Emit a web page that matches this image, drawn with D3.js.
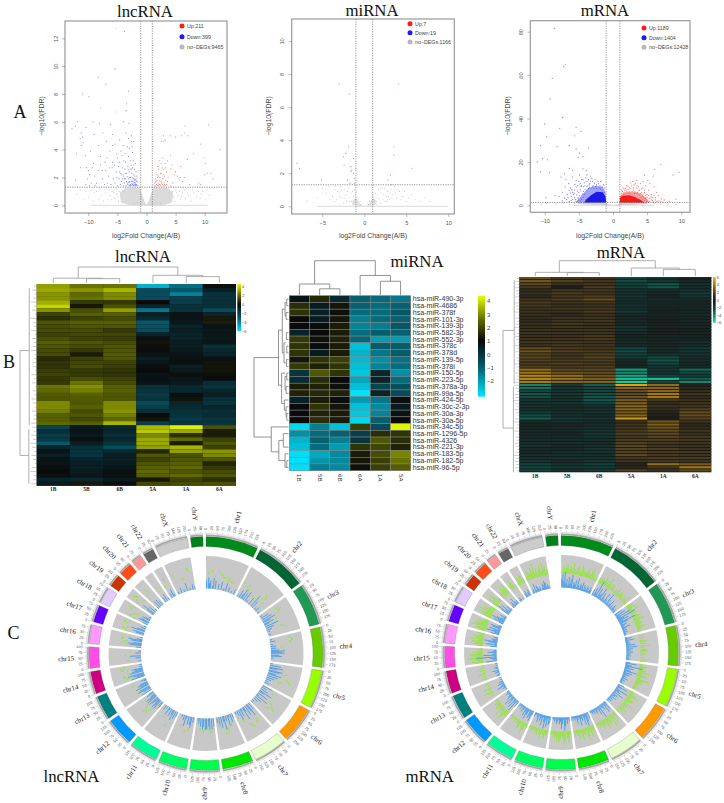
<!DOCTYPE html>
<html><head><meta charset="utf-8">
<style>html,body{margin:0;padding:0;background:#fff}svg{display:block}</style>
<script src="https://d3js.org/d3.v7.min.js"></script>
</head><body><svg id="c" width="724" height="803"></svg>
<script>
// ---------- volcano data (log2FC, -log10 FDR) ----------
const lncUp=[[1.3,1.4],[1.4,1.6],[1.5,1.9],[1.6,1.4],[1.7,1.5],[1.8,1.8],[1.8,2.2],[1.9,1.4],[2,1.6],[2,2.1],[2.1,1.4],[2.1,2.6],[2.2,1.8],[2.3,1.5],[2.3,2],[2.4,1.4],[2.5,1.7],[2.5,3],[2.6,2.3],[2.7,1.5],[2.8,1.9],[2.8,3.4],[2.9,1.4],[3,1.6],[3,2.6],[3.1,2.1],[3.2,1.4],[3.2,3],[3.3,1.8],[3.4,2.4],[3.5,1.5],[3.6,3.2],[3.7,2],[3,4.6],[2.6,4.6],[3.2,4.7],[2.9,5],[4.1,5],[5,4.9],[6,5],[6.6,5.2],[6.6,5.7],[4.2,2.6],[4.5,1.6],[4.8,2.2],[5,2.4],[5.3,2.1],[5.6,1.9],[5.8,2],[4.1,3.6],[4.4,2.9],[5.9,2.8],[6.2,1.7],[7.1,5],[7,3.3],[8.1,3.7],[9.3,4.4],[9.9,3.4],[10.1,3],[10,2.2],[10.5,2.3],[9.3,1.5],[9,1.6],[10.7,5.8],[11.1,2.3],[11.4,1.9],[12.6,4],[6.5,2],[7.4,1.5],[4.1,1.4],[1.6,1.7],[1.9,2],[2.2,1.5],[2.4,2.3],[2.6,1.6],[2.9,2.2],[3.1,1.5],[3.3,2.7],[2,2.8],[2.2,3.2],[2.7,2.7],[3.6,1.7]];
const lncDown=[[-3.8,12.5],[-5.4,9.8],[-8.3,9.2],[-7,8.7],[-3.1,8.2],[-11,8],[-9.9,7.8],[-3.4,7.3],[-3.5,6.8],[-11.9,6],[-12.2,5.7],[-12.8,5.5],[-11.2,5.2],[-11,4.9],[-11.4,4.8],[-10.9,4.5],[-11.2,4.3],[-9.2,6],[-8.1,5.9],[-6.2,5.8],[-4,6],[-3,5.9],[-10.4,5.6],[-7.5,5.2],[-9,5.1],[-5.8,5.1],[-4.6,4.7],[-3.5,5.2],[-2.6,5],[-2.6,4.6],[-6.9,4.6],[-8.2,4.3],[-5.4,4.4],[-4,4.3],[-3.3,4.2],[-2.5,4.2],[-12,3.7],[-10.5,3.6],[-9.6,3.9],[-7.9,3.5],[-6.3,3.9],[-5.1,3.7],[-4.2,3.6],[-3.1,3.5],[-2.4,3.8],[-2.3,3.2],[-7.1,3.1],[-9.1,3],[-5.8,3.1],[-4.7,3.1],[-3.6,3.1],[-2.8,3.2],[-1.9,3],[-11.3,2.7],[-10.3,2.7],[-10,2.5],[-9.8,2.2],[-10.1,1.9],[-10.4,1.5],[-9.5,1.6],[-9.8,1.4],[-8.9,2.1],[-8.6,1.6],[-8.2,2.5],[-7.6,1.9],[-7.2,1.5],[-7,2.5],[-6.5,2.1],[-6.1,1.5],[-5.9,2.7],[-5.7,1.9],[-5.4,1.6],[-5.2,2.4],[-5,1.4],[-4.8,2.8],[-4.7,1.9],[-4.5,1.5],[-4.4,2.3],[-4.3,1.7],[-4.1,2.7],[-4,1.4],[-3.9,2.1],[-3.8,1.6],[-3.7,2.6],[-3.6,1.9],[-3.5,1.4],[-3.4,2.3],[-3.3,1.6],[-3.2,2.8],[-3.1,1.9],[-3,1.4],[-3,2.4],[-2.9,1.7],[-2.8,2.6],[-2.8,1.5],[-2.7,2],[-2.6,2.9],[-2.6,1.4],[-2.5,1.7],[-2.5,2.3],[-2.4,1.5],[-2.4,2.7],[-2.3,1.9],[-2.3,1.4],[-2.2,2.2],[-2.2,1.6],[-2.1,1.4],[-2.1,2.6],[-2,1.8],[-2,1.5],[-2,2.1],[-1.9,1.4],[-1.9,1.6],[-1.8,1.9],[-1.8,2.4],[-1.7,1.5],[-1.7,1.4],[-1.6,1.7],[-1.5,1.4],[-3.2,1.5],[-3.6,2.3],[-2.9,2],[-3.9,3.2],[-2.2,2.9],[-4.1,1.9],[-6.7,1.6],[-12.2,1.8],[-5,3.4],[-7.9,2.9],[-2.7,1.45],[-2.5,1.55],[-2.35,1.75],[-2.2,1.45],[-2.05,1.65],[-1.95,1.85],[-2.15,1.9],[-2.45,2],[-2.65,1.75],[-2.85,1.4],[-3.05,1.65],[-3.25,2.05],[-3.45,1.7],[-3.15,2.55],[-2.55,2.6],[-1.85,1.5],[-1.75,1.75],[-1.65,2.1],[-4.2,2.2],[-3.75,1.9],[-4.6,2.4],[-5.1,2],[-5.5,2.9],[-6.3,2.7],[-6.8,3.4],[-4.4,3.9],[-3.7,3.7],[-2.9,4.1],[-2.2,4.6],[-7.6,2.5],[-8.8,1.4],[-9.3,2.7],[-3.1,4.8],[-5.8,4.3]];
const lncGrey=[[-5.2,12.7],[-7.9,7],[-5.2,6.7],[-8.6,1],[-7.8,.7],[-7,.9],[-6.4,1.1],[-6,.4],[-5.6,.9],[-5.2,1.2],[-4.9,.6],[-4.6,1],[-9.9,.6],[-9.2,.3],[-8.2,.4],[-7.4,.3],[-10.8,.4],[4.4,1],[4.7,.6],[5,1.1],[5.4,.7],[5.8,.4],[6.2,.9],[6.7,.5],[7.2,.7],[7.6,.3],[8.1,.9],[8.6,.6],[9.2,.5],[9.7,1],[10.2,.4],[10.8,.7],[-3.9,1],[3.9,.9],[-11.4,1.1],[-12,.8],[-4.8,.3],[-5.1,.8],[-5.5,.5],[-5.9,1],[-6.3,.7],[-6.7,.4],[-7.2,1.1],[-8,1.2],[-9,.9],[-9.6,1.1],[-10.4,1],[4.9,.3],[5.2,.9],[5.7,1],[6,.6],[6.5,1.1],[7,.9],[7.9,1.1],[8.9,1],[9.4,.8],[10.4,1.1],[-1,.25],[-1.6,.2],[-2.2,.15],[1.1,.2],[1.7,.18],[2.4,.12]];
const lncCloud=[[0,.02],[-.4,.35],[-.8,.85],[-1.2,1.27],[-3.6,1.27],[-4.6,.9],[-4.4,.2],[-3,.03],[-.3,.01],[.3,.01],[3,.03],[4.4,.2],[4.6,.9],[3.6,1.27],[1.2,1.27],[.8,.85],[.4,.35]];
const miUp=[[4.1,7.4],[3.5,3.6],[3.5,3.1],[5.7,2.3],[3.1,1.9],[2.8,1.6],[3.2,1.3]];
const miDown=[[-2.8,12.9],[-3,7.4],[-1.8,6.8],[-1.9,3.6],[-2.2,3.2],[-2.5,3],[-1.3,2.9],[-8,2.6],[-7.7,2.3],[-2.4,2.5],[-1.6,2.4],[-1.5,2.2],[-1.6,2.1],[-1.3,2],[-1.2,1.7],[-5.1,1.6],[-1.7,1.4],[-1.2,1.4],[-2,1.6]];
const miGrey=[[-5,1.1],[-4.5,.8],[-4.2,1.2],[-3.8,.6],[-3.5,1],[-3.3,.4],[-3,.8],[-2.8,1.2],[-2.6,.5],[-2.4,1],[-2.2,.7],[-2.1,.3],[-1.9,1.1],[-1.8,.5],[-1.6,.8],[-1.5,.3],[-1.3,.6],[-1.2,1],[-1.1,.4],[-.9,.5],[-.8,.3],[-.7,.4],[-.6,.2],[-.5,.3],[-.4,.1],[.4,.2],[.5,.1],[.6,.3],[.7,.2],[.8,.5],[.9,.3],[1,.6],[1.1,.4],[1.2,.3],[1.3,.8],[1.4,.5],[1.5,.3],[1.6,.7],[1.7,1],[1.8,.5],[2,.8],[2.2,.4],[2.4,1.1],[2.6,.6],[2.8,.9],[3,.4],[3.2,1],[3.4,.7],[3.6,1.2],[3.9,.5],[4.2,.9],[4.6,.6],[5,.3],[5.6,.7],[6.1,.4],[6.6,.3],[7.2,.5],[7.8,.3],[-5.6,.5],[-6,.2],[-6.8,.3],[-4.1,.4],[-3.6,.3],[2.7,.3],[1.9,.2],[-2.5,.2],[-2.9,.6],[-3.2,.9],[-3.4,1.2],[-2.7,1],[-2.3,.5],[-2,.9],[-1.7,.3],[-1.4,.9],[-1.1,.7],[2.1,1.1],[2.3,.7],[2.5,.3],[2.9,.6],[3.1,.8],[3.3,.5],[3.7,.8],[4,1],[4.4,.4],[4.8,.9],[5.3,.5]];
const miCloud=[[-.15,.01],[-.6,.15],[-1,.5],[-1.4,.35],[-1.5,.1],[-.8,.02],[.8,.02],[1.5,.1],[1.4,.35],[1,.5],[.6,.15],[.15,.01]];
const mUp=[[7,18.8],[6.1,16.5],[5.9,13.5],[9.7,15.2],[8.8,14],[5.1,11.5],[4.6,14],[5.4,10],[6,8.5],[6.4,6],[6.7,4.5],[7.1,3],[7.5,2.5],[9.2,2.8],[8.2,1.8],[5.6,5],[5.2,7],[4.8,9],[4.4,11],[4,10],[3.7,8.5],[3.3,10],[3,8],[2.7,9],[2.4,8],[2,9],[1.7,7],[4.2,6],[4.6,7],[5,5],[5.3,3],[5.8,3.5],[6.2,2.5],[4.9,2.5],[4.4,8],[3.9,7],[3.5,11.5],[2.9,11],[6.6,2],[5.6,2.5],[1.2,5.6],[1.4,6.4],[1.6,5.8],[1.8,7.8],[2,6.6],[2.2,7.2],[2.4,6.2],[2.6,7.6],[2.8,6.4],[3,7],[3.2,6.2],[3.4,7.8],[3.6,6],[3.8,6.8],[4,5.4],[4.2,7.6],[4.4,5.2],[4.6,5.8],[4.8,4.6],[5,3.8],[5.2,4.6],[5.4,3.4],[5.6,3.8],[5.8,2.2],[6,4.4],[6.2,3.6],[4.3,4.2],[4.5,3.6],[4.7,3],[3.9,4.6],[4.1,3.8],[3.7,5.2],[3.4,5.6],[3.1,5.4],[2.8,5.2],[2.5,5.4],[2.2,5.6],[1.9,5.4],[1.6,4.9],[1.3,4.6],[1.1,4],[5.1,2],[5.4,1.7],[4.9,1.6],[4.6,2],[4.8,3.4],[4.4,2.8],[5.9,1.6],[6.4,1.7],[7.3,1.6],[6.9,1.9],[3.5,9],[3.1,9.4],[2.6,10.4],[2.2,8.8],[1.5,8],[1.2,7]];
const mDown=[[-8.6,81.5],[-7,65],[-7.2,64],[-8.9,58.5],[-9.2,49],[-7.4,40.5],[-10,37.5],[-7.8,35.5],[-5.4,36],[-4.7,34],[-5.6,32],[-9.7,31.5],[-6.4,27.5],[-8.2,27],[-5.4,26],[-4.9,24],[-4.4,22.5],[-10.6,27.5],[-5.1,22],[-3.6,26.5],[-11.1,20],[-10.3,21.5],[-9.6,21],[-10.6,15.5],[-9.3,15],[-6.4,17],[-5.9,16],[-4.4,16.8],[-3.9,16],[-7.1,14.5],[-7.6,13],[-6.9,12],[-6.5,10],[-7,8.5],[-5.9,13],[-5.4,11.5],[-4.9,14],[-4.6,12],[-3.8,14],[-3.3,13.5],[-6.2,8],[-5.6,7],[-5.2,9],[-4.8,10],[-5,6],[-7.4,6],[-7.9,4],[-8.5,4.5],[-9.8,3.5],[-6.7,5],[-6.1,4],[-5.6,3.5],[-5.9,6],[-4.3,8.5],[-4.2,5],[-3.8,11],[-3,11],[-2.6,12],[-2.1,10],[-1.8,11],[-1.2,8],[-1.4,9.4],[-1.6,8.4],[-1.9,9],[-2.2,11],[-2.4,9.4],[-2.7,10.2],[-2.9,9],[-3.1,12.4],[-3.4,10],[-3.6,11.8],[-3.8,8.8],[-4,12.6],[-4.2,10.4],[-4.4,11.8],[-4.6,8.8],[-4.8,7.4],[-5,11],[-5.2,6.6],[-5.4,8.4],[-5.6,9.6],[-5.8,5],[-6,7.2],[-6.2,5.6],[-6.4,7],[-6.6,3.4],[-4.1,7.4],[-4.3,6.4],[-4.5,5.2],[-4.7,6.6],[-4.9,4.4],[-5.1,3.4],[-5.3,4.8],[-5.5,2.6],[-5.7,5.6],[-5.9,2.8],[-6.1,2.2],[-3.6,7.6],[-3.8,6.6],[-3.4,8.4],[-3.2,7.8],[-3,8.6],[-2.8,7.8],[-2.6,8.6],[-2.4,7.8],[-2,8],[-1.8,7.6],[-1.5,7],[-1.3,6],[-4.4,3.6],[-4.6,2.8],[-4.8,2],[-5,2.4],[-5.4,1.8],[-5.2,1.6],[-6.4,1.8],[-6.8,2.6],[-7.1,3.4],[-7.4,2],[-3.5,9.4],[-3.3,11.2],[-4.1,9],[-4.7,8.8]];
const mGrey=[[-9.8,1],[-8.4,.7],[-7.2,.9],[-6.4,.5],[-5.6,1],[6,.8],[7,.5],[8.1,.6],[9.2,.4],[-10.5,.4],[-5,1.1]];
const mUpDense=[[1,1.3],[1,4.2],[1.4,5.6],[2,6.2],[3.2,6.2],[4.2,5.2],[4.9,3.2],[5.4,1.3]];
const mUpCore=[[1,1.3],[1,3.2],[1.4,4.4],[2.4,4.6],[3.2,3.8],[4,2.6],[4.6,1.3]];
const mDownDense=[[-1,1.3],[-1.1,6],[-1.5,8.5],[-2.4,9],[-3.6,8],[-4.5,5],[-5.3,2],[-5.2,1.3]];
const mDownCore=[[-1,1.3],[-1.1,4],[-1.5,6],[-2.4,6.2],[-3.2,4.6],[-3.9,2.8],[-4.2,1.3]];
const mCloud=[[-.1,.1],[-.6,.4],[-1,1],[-1.6,1.28],[-4.8,1.28],[-5.2,.6],[-3,.2],[0,.02],[3,.2],[5.2,.6],[4.8,1.28],[1.6,1.28],[1,1],[.6,.4],[.1,.1]];

// ---------- heatmap data ----------
const lncCols=["1B","5B","6B","5A","1A","6A"];
const lncRows=[[3,2.2,2.2,-5,-3.5,.1],[3.2,2.8,3.4,-2.5,-3,-.8],[2.8,2,2.6,-2.5,-3.9,-1.5],[2.8,2.2,2.6,-2.5,-2,-1.5],[3.3,1,1,0,-2,-1.5],[4,.3,1.5,-1,-1.5,-1.5],[2.8,1.5,3,-3.7,-1.5,-2.5],[1.2,1.8,1.8,-.8,-.4,-1],[.8,1.2,1.4,-1.2,-.4,.3],[1.6,1.8,1.8,-3,-.6,.4],[1.4,1.6,1.6,-2.8,-1,-.4],[1.4,1.4,1,-2.6,-.8,-.5],[1.2,1.3,1.3,-1,-1,-.5],[1.5,1.2,1.1,-.2,-1,-.6],[1.8,1.6,1.4,.2,-.7,-.5],[1.6,1.4,1.6,.1,-.8,-1.5],[1.4,1,1.6,-.1,-.6,-1.2],[1.4,.4,1.7,-.4,-.4,-1],[.7,1.2,1.6,-.8,-.3,-.3],[.9,1.3,1.2,-.5,-.2,.2],[.9,1.4,1.1,-.2,-.8,.2],[1.1,1,.9,0,-.6,.2],[1.2,1,.9,-.4,.1,.1],[1,1.4,1.2,-.3,-.5,-.1],[1,2.2,1.4,-.4,-.6,-1.4],[2.2,2.7,1.8,-1.5,-1.2,-1.7],[2,2.4,1.8,-1.6,-1.2,-1],[1.7,1.8,1.6,-1.8,-.2,-.8],[1.6,1.7,1.6,-1.6,.2,-1.4],[2.6,1.6,2.6,-2.4,-1,-1.6],[2.6,1.8,2.6,-2,-1.2,-1],[2.4,1.4,2.8,-1.4,-1.5,-1.4],[1.8,1.6,2.4,0,-1.6,-1.3],[1.8,1.3,2,.2,-1.8,-1.6],[2,1.8,3.4,-2,-1.6,-1.6],[-2.2,-.6,-1.2,3.5,4.5,1.5],[-1.4,-.4,-1,3.8,3.2,.4],[-2,-.6,-1.4,2.6,.8,.4],[-1.8,-.2,-1.1,3.2,2,1.2],[-3,-.8,-1.6,3.2,.4,1.6],[-1,-1.5,-2.6,3,3.4,1.2],[-.4,-1.6,-1.2,.6,3,2.8],[-.8,-1.6,-.8,1.6,1.5,2.6],[-.4,-1,-.8,1.2,1.6,1.6],[-.4,-.8,-.7,1.6,1.8,.6],[-.2,-.8,-.5,1.8,2,1],[0,-.7,-.2,2,1.6,1.4],[-.2,-.5,-.2,1.8,2,1.6],[-1,-1.2,-.7,.3,1.2,.8],[-.7,.3,.1,1.3,1.4,1.5]];
const miCols=["1B","5B","6B","6A","1A","5A"];
const miRowNames=["hsa-miR-490-3p","hsa-miR-4686","hsa-miR-378f","hsa-miR-101-3p","hsa-miR-139-3p","hsa-miR-582-3p","hsa-miR-552-3p","hsa-miR-378c","hsa-miR-378d","hsa-miR-139-5p","hsa-miR-378i","hsa-miR-150-5p","hsa-miR-223-5p","hsa-miR-378a-3p","hsa-miR-99a-5p","hsa-miR-424-5p","hsa-miR-30c-2-3p","hsa-miR-30a-3p","hsa-miR-30a-5p","hsa-miR-34c-5p","hsa-miR-1296-5p","hsa-miR-4326","hsa-miR-221-3p","hsa-miR-183-5p","hsa-miR-182-5p","hsa-miR-96-5p"];
const miRows=[[.8,1.5,.3,-1,-1.2,-1.4],[1.6,.6,1.2,-1,-1.2,-1],[1.7,.5,1.1,-1.2,-1.2,-.8],[1,.6,1.2,-1.5,-1.2,-1],[1,.9,1.3,-1.6,-1.5,-.8],[.4,1,1.3,-1.2,-.9,-1],[1.8,1.1,1.4,-1.1,-2,-2],[1.7,.9,1.3,-2.6,-.9,-.9],[1.7,.6,1.3,-2.4,-1.4,-.9],[1.2,1.7,1.9,-2.5,-1.8,-1.3],[1.8,1.4,1.7,-2.6,-1.6,-1.2],[0,2.3,1.7,-2.7,.3,-1.8],[.2,1.6,1,-2.2,.4,-1.2],[1.3,1.4,1.1,-2.6,-.4,-.6],[1.4,1.5,1.4,-3.2,.4,-.5],[.5,1.3,.9,-2,-1.4,.9],[1,1.7,1.2,-2.6,-1.7,.6],[1,1.4,1.3,-2.7,-1.6,.8],[1,1.6,1.3,-3,-1,1],[-3,-1.5,-2.6,1.9,-.5,4.3],[-1.8,-1.2,-1,-.2,1.6,1.7],[-2.4,-1,-1.5,0,2.3,1.6],[-2.6,-1.2,-2,1.7,2,1.4],[-3.1,-2.2,-1.7,1.3,2.1,2.9],[-3.1,-1.9,-1.7,1.2,1.9,2.7],[-3.1,-1.5,-1.7,1.1,1.9,2.4]];
const mCols=["1B","5B","6B","5A","1A","6A"];
const mRows=[[2.6,1.6,1.4,-2.4,-1.4,-.6],[3,2.2,1.6,-2.6,-1.6,-.8],[2.4,1.2,1.5,-2.2,-2.8,-1.2],[1.6,.3,1.8,-2,-2.8,-1],[1,1.5,1.6,-1.4,-1,-1.4],[1.2,1.8,1.4,-1.4,-.8,-1.8],[.8,1.6,2,-1.6,-.6,-1.4],[1.4,1.8,2.6,-1.2,-1,-1],[1.8,1.4,1.6,-1,-.8,-.8],[1.6,1.2,1.4,-1.4,-.8,-.8],[1.4,1.5,1.6,-1.2,-.6,-.9],[1.3,1.3,1.7,-1.6,-.6,-.8],[1.2,.9,1.3,-.9,-.6,-.9],[1,1.3,1.4,-.7,-.5,-.6],[.9,1.4,1.5,-.9,-.4,-.8],[1.2,1.6,1.3,-.8,-.5,-.7],[1.1,1.4,1.2,-1.3,-.5,-.6],[1.3,1.3,1.4,-1.4,-.4,-.5],[1.4,1.4,1.3,-.9,-.5,-.6],[1.2,1.2,1.6,-.7,-.6,-.5],[1.3,1.4,1.6,-.8,-.7,-.6],[1.5,1.5,1.4,-1,-.7,-1.2],[1.2,1.6,1.5,-.9,-.6,-1],[2.6,1.8,1.6,-2.4,-1,-1.7],[2.8,2,1.8,-2.6,-.8,-1.6],[2.2,1.5,2,-2.2,-1.4,-1.4],[2.4,1.6,2.2,-1.8,-2.6,-1],[2,1.8,1.9,-.9,-2.8,-1],[1.8,2,1.7,-.8,-2.4,-.8],[2,1.7,1.9,-.7,-1.6,-.9],[3.6,2.4,2.4,-4.4,-1.6,-3.2],[3.8,2.8,2.6,-4,-1.4,-2.6],[4.4,3.6,2.8,-4.6,-2.4,-2],[4.6,3.8,3.2,-5.4,-5.4,-3],[4.2,3.4,3.4,-5.6,-2.4,-4],[-3.8,-1.8,-3,5.4,3.6,.4],[-3.4,-1.6,-2.4,3.4,3.4,.8],[-2.4,-1.4,-2.2,2.6,3.4,1],[-2.8,-1.6,-2.6,2.4,4,1.4],[-2.6,-1.2,-2.8,2.8,4,.9],[-1.6,-1.3,-2.8,3,1.6,1.2],[-1.4,-1.4,-2.2,3.2,1,1.4],[-1.3,-.9,-1.2,3.4,1.4,1.6],[-1.2,-1,-1.2,3.4,1,2],[-1.8,-1.2,-1.4,3,.6,2.6],[-2.6,-1.2,-1,3.4,.4,2.6],[-3,-1.8,-1.4,5,.3,2.2],[-1,-1.2,-1,1.2,3,1.4],[-.7,-.8,-1.1,1.4,3.2,.8],[-.7,-1,-1.2,1.6,2.8,1],[-.8,-.9,-1.3,1.8,2.6,1.4],[-.9,-.7,-1.6,2,2.4,1.2],[-.9,-1,-1.5,1.6,2.2,1.6],[-1,-1.1,-1.2,1.8,2,1.5],[-1.1,-1.2,-1,2,1.6,1.4],[-1.3,-.9,-1.2,2.2,1.4,1.2],[-1,-1,-1.5,2.2,1.8,1.3],[-.8,-1.1,-1.4,2,1.7,1.6],[-1.1,-1.2,-1.2,2.4,1.6,1.4],[-1.2,-1.4,-1.4,1.6,1.9,1.8],[-1.6,-1,-1.6,1.3,1.6,1.4],[-2.2,-1.4,-2,.5,3.6,3],[-2.4,-1.6,-1.8,.7,1.6,4],[-2.2,-1.4,-1.8,2,1.3,2.4]];
const lncLeaf=[3,5,2,4,6,3,5,2,7,4,3,6,2,5,3,4,6,2,3,5,4,2,6,3,5,2,4,3,6,4,2,5,3,4,6,5,3,6,4,7,5,3,6,4,2,5,7,3,4,6];
const mLeaf=[3,5,2,6,4,3,5,2,7,4,3,6,2,5,3,4,6,2,3,5,4,2,6,3,5,2,4,3,6,4,2,5,3,4,6,7,5,3,6,4,7,5,3,6,4,2,5,7,3,4,6,2,5,3,6,4,2,5,7,3,6,4,5,3];
// merges: [posA, posB, depthA, depthB, depthTop]
const lncTop=[[1,2,0,0,.27],[0,1.5,0,.27,.3],[4,5,0,0,.4],[3,4.5,0,.4,.48],[.75,3.75,.3,.48,1]];
const miTop=[[1,2,0,0,.18],[0,1.5,0,.18,.32],[4,5,0,0,.4],[3,4.5,0,.4,.57],[.75,3.75,.32,.57,1]];
const mTop=[[1,2,0,0,.22],[0,1.5,0,.22,.24],[4,5,0,0,.43],[3,4.5,0,.43,.52],[.75,3.75,.24,.52,1]];
const lncLeft=[[16,42,.42,.45,1],[.5,34.5,.42,.42,.42],[35.5,49,.45,.45,.45]];
const mLeft=[[17,49,.3,.35,1],[.5,34.5,.3,.3,.3],[35.5,63.5,.35,.35,.35]];
const miLeft=[[8.7,20.5,.29,.5,1],[4.6,12.8,.18,.2,.29],[1.5,8,.1,.13,.18],[.5,2.5,.05,.07,.1],[0,1,0,0,.05],[2,3,0,0,.07],[6.5,9.5,.08,.08,.13],[5,6,0,0,.06],[7,8,0,0,.05],[9,10,0,0,.06],[11,15.5,.1,.12,.2],[11.5,13.5,.05,.07,.1],[11,12,0,0,.05],[13,14,0,0,.07],[15,16.5,0,.07,.12],[16,17.5,0,.05,.07],[17,18,0,0,.05],[19,22.7,0,.28,.5],[21,24,.15,.1,.28],[20,22,0,0,.15],[23,25,0,.05,.1],[24,25,0,0,.05]];
const lncBar=[4,2,0,-2,-4,-6], miBar=[4,3,2,1,0,-1,-2], mBar=[6,4,2,0,-2,-4,-6];

// ---------- circos data ----------
const chrNames=["chr1","chr2","chr3","chr4","chr5","chr6","chr7","chr8","chr9","chr10","chr11","chr12","chr13","chr14","chr15","chr16","chr17","chr18","chr19","chr20","chr21","chr22","chrX","chrY"];
const chrSizes=[249,243,198,191,181,171,159,146,141,135,135,133,115,107,102,90,81,78,59,63,48,51,155,59];
const chrColors=["#008b1a","#006633","#1f9954","#66cc00","#99ff00","#ff9900","#e6ffcc","#00e600","#00ff4d","#00ff66","#00ff99","#0099ff","#008080","#cc0080","#ff4de6","#ff99ff","#6600ff","#e0ccff","#cc3300","#ff4d1a","#ff9999","#666666","#cccccc","#00801a"];
const lncBlue=[
[3,0,4,2,3,0,1,4,0,3,0,0,2,0,0,3,0,0,1,0,3,0,0,2,0,0,1,0,0,2,0],
[0,1,0,3,0,2,4,0,3,0,4,0,1,0,0,3,0,0,5,0,3,0,0,1,0,2,0,0,1,0],
[0,1,0,3,0,4,0,5,3,0,4,2,0,5,0,3,0,2,0,1,0,0,1,0,0],
[0,1,0,2,0,0,1,0,2,0,2,0,3,5,4,5,0,3,4,0,1,0,0,0],
[1,0,4,0,5,3,0,5,4,0,3,5,0,4,0,3,0,2,0,1,0,2,0],
[4,0,2,0,3,0,5,2,0,4,0,1,5,0,3,0,2,0,1,0,1],
[0,3,0,5,3,0,4,0,2,5,0,1,3,0,4,0,2,0,1,0],
[2,0,3,0,1,4,0,2,0,5,2,0,4,0,3,0,2,0],
[3,0,4,0,4,3,0,4,4,0,3,4,0,3,0,2,1,0],
[0,2,0,4,3,0,3,0,1,4,0,2,0,1,0,0,0],
[2,0,3,0,4,2,0,3,0,1,3,0,1,0,2,0,0],
[3,2,0,4,3,4,2,3,4,0,4,3,4,2,0,3,2],
[4,0,3,5,4,0,5,3,4,3,0,1,2,0],
[5,3,4,6,0,5,4,3,4,0,1,0,1],
[0,1,0,0,2,0,4,0,0,2,0,1,0],
[2,0,4,5,3,0,4,5,2,0,1],
[0,3,4,0,5,3,0,2,0,1],
[2,0,4,3,0,3,2,0,1,0],
[0,3,5,0,3,0,1],
[1,0,3,0,3,0,2,0],
[0,2,0,3,0,1],
[0,2,0,3,1,0],
[0,1,0,0,2,0,0,1,0,0,3,0,0,1,0,0,2,0,1],
[0,0,0,3,6,0,0]];
const lncGreen=[
[0,0,4,0,0,5,0,0,3,0,0,5,0,4,4,3,3,0,3,0,2,3,0,2,0,2,0,0,0,0,0],
[0,4,0,3,0,3,4,2,0,0,0,0,0,1,0,0,0,0,2,0,0,3,5,4,2,0,0,0,0,0],
[0,0,5,6,7,6,5,0,0,0,3,0,0,3,0,0,0,4,5,6,0,0,0,0,0],
[0,0,6,7,7,6,0,0,0,2,0,0,3,0,0,0,0,0,0,0,0,0,0,0],
[0,0,0,0,0,0,0,3,5,4,0,0,6,7,8,4,3,0,0,0,0,0,0],
[0,0,0,3,0,0,0,0,0,4,5,0,6,7,5,4,0,0,0,0,0],
[0,0,0,0,5,6,0,0,0,7,6,5,0,0,3,2,0,0,0,0],
[0,0,0,1,2,0,0,3,4,3,5,0,0,2,0,1,0,0],
[0,0,2,3,3,2,0,0,1,2,3,0,0,2,0,0,0,0],
[0,0,0,0,3,0,0,4,0,0,0,2,0,0,0,0,0],
[0,0,3,0,0,5,0,0,0,0,2,0,0,3,0,0,0],
[0,0,1,0,3,4,5,6,4,3,2,0,2,0,0,0,0],
[0,0,0,2,0,0,3,1,0,0,4,0,0,0],
[0,3,5,6,6,4,0,0,4,6,7,5,0],
[0,0,3,0,0,2,0,4,0,0,2,0,0],
[0,2,4,6,5,4,6,6,3,0,0],
[5,6,7,5,3,0,6,7,5,0],
[4,6,6,5,4,3,7,8,6,0],
[3,6,7,9,8,5,4],
[0,3,5,7,6,0,0,0],
[0,5,0,0,4,0],
[3,0,6,0,0,0],
[0,0,6,0,0,0,0,0,0,3,0,0,0,0,7,6,0,0,0],
[0,0,0,0,0,0,0]];
const mBlue=[
[4,6,3,7,2,4,1,5,2,4,6,1,3,2,4,1,5,2,1,3,2,4,1,3,2,1,3,2,1,3,2],
[3,1,4,2,8,1,5,2,3,6,1,4,2,1,5,2,1,6,3,1,2,4,1,2,1,3,2,1,2,1],
[4,1,5,2,7,2,9,3,5,2,8,4,1,3,2,1,4,2,1,2,1,2,1,1,1],
[1,3,1,4,1,2,1,2,4,1,5,1,3,2,1,3,1,2,1,2,1,1,2,1],
[2,5,1,3,8,2,4,1,3,6,1,4,2,3,1,2,1,3,1,2,1,1,2],
[3,1,5,2,1,6,2,3,1,5,1,3,2,1,3,1,2,1,2,1,1],
[1,4,2,5,1,3,2,1,6,2,4,1,2,3,1,2,1,2,1,1],
[3,1,4,6,2,5,1,3,2,5,1,2,4,1,2,1,1,2],
[2,1,3,1,4,6,1,3,5,2,3,1,2,3,1,2,1,1],
[3,4,1,5,2,6,3,1,5,2,3,1,4,2,1,1,2],
[2,5,3,4,1,3,5,2,4,1,2,3,1,2,1,1,2],
[3,1,6,2,5,1,4,2,5,1,3,2,1,1,2,1,1],
[1,0,2,1,4,2,1,3,1,2,0,1,0,1],
[2,1,0,2,1,3,0,1,2,0,1,0,1],
[5,1,2,3,9,1,6,2,1,4,2,1,0],
[3,1,5,1,4,6,2,3,1,2,0],
[4,2,6,3,5,1,4,5,2,1],
[2,5,3,6,4,2,1,3,1,0],
[4,6,2,5,1,3,1],
[1,2,3,1,4,2,1,2],
[1,2,1,0,1,0],
[2,3,1,2,3,0],
[1,2,0,4,1,3,2,1,2,0,1,3,2,4,3,1,2,1,0],
[0,0,0,0,0,0,0]];
const mGreen=[
[1,2,4,2,3,5,2,4,3,2,6,3,2,4,5,3,2,6,4,3,2,3,5,3,2,4,6,3,2,1,2],
[3,2,4,3,2,5,3,4,2,6,3,2,4,3,2,1,3,2,5,3,2,4,3,2,1,3,2,4,2,1],
[2,4,3,5,2,6,3,2,4,1,3,5,2,4,6,3,2,4,3,2,5,3,2,1,2],
[0,2,0,3,0,2,4,1,3,0,5,2,0,3,4,2,0,3,1,0,2,0,3,1],
[1,2,4,3,2,4,3,6,2,4,5,3,2,7,5,3,4,2,3,1,3,2,1],
[2,3,2,4,6,3,2,5,4,3,2,6,3,4,2,3,5,2,3,1,2],
[1,3,2,5,3,7,2,4,5,3,6,2,4,3,5,2,3,1,2,1],
[2,4,2,6,3,5,7,2,4,3,6,4,2,5,3,2,3,1],
[2,3,6,4,2,5,7,3,2,4,6,3,5,2,4,3,1,2],
[1,3,2,5,3,2,6,3,1,4,2,3,1,2,3,1,2],
[3,2,4,6,3,2,4,5,2,3,1,3,2,1,2,1,1],
[2,4,3,5,7,4,3,6,3,2,4,3,2,3,1,2,1],
[0,0,2,0,3,5,0,2,4,0,1,0,2,0],
[0,3,0,2,0,4,1,0,3,0,2,0,1],
[4,6,3,5,8,4,6,7,3,5,2,3,1],
[3,5,4,6,3,7,4,5,3,2,4],
[4,6,5,8,6,7,4,6,3,2],
[3,5,7,4,8,5,6,4,3,2],
[3,6,4,7,5,3,2],
[2,4,3,5,7,4,6,3],
[0,3,6,4,2,1],
[2,5,3,6,4,2],
[2,3,5,4,3,6,4,8,3,5,2,4,6,3,7,4,5,3,2],
[0,0,0,0,0,0,0]];

// ---------- drawing ----------
const svg=d3.select("#c");
const SERIF="'Liberation Serif',serif", SANS="'Liberation Sans',Arial,sans-serif";
function serif(x,y,t,size,extra){return svg.append("text").attr("x",x).attr("y",y).attr("text-anchor","middle").attr("font-family",SERIF).attr("font-size",size).attr("fill",extra||"#111").text(t);}

function volcano(o){
  const x=d3.scaleLinear().domain([o.xv[0],o.xv[1]]).range([o.xp[0],o.xp[1]]);
  const y=d3.scaleLinear().domain([o.yv[0],o.yv[1]]).range([o.yp[0],o.yp[1]]);
  const g=svg.append("g");
  const line=d3.line().x(d=>x(d[0])).y(d=>y(d[1]));
  g.append("line").attr("x1",x(o.band[0])).attr("x2",x(o.band[1])).attr("y1",y(0)).attr("y2",y(0)).attr("stroke","#dadada").attr("stroke-width",1);
  g.append("path").attr("d",line(o.cloud)+"Z").attr("fill","#c8c8c8").attr("opacity",o.cloudOp||.8);
  (o.dense||[]).forEach(p=>g.append("path").attr("d",line(p.pts)+"Z").attr("fill",p.c).attr("opacity",p.op));
  [[o.grey,"#bdbdbd",.9],[o.up,"#f24a4a",.8],[o.down,"#4a4af2",.75]].forEach(([arr,c,op])=>{
    g.selectAll(null).data(arr).join("circle").attr("cx",d=>x(d[0])).attr("cy",d=>y(d[1])).attr("r",o.r||.55).attr("fill",c).attr("opacity",op);
  });
  const box=o.box;
  [-1,1].forEach(v=>g.append("line").attr("x1",x(v)).attr("x2",x(v)).attr("y1",box[1]).attr("y2",box[3]).attr("stroke","#555").attr("stroke-width",.6).attr("stroke-dasharray","1.2,1.2"));
  g.append("line").attr("x1",box[0]).attr("x2",box[2]).attr("y1",y(1.3)).attr("y2",y(1.3)).attr("stroke","#444").attr("stroke-width",.6).attr("stroke-dasharray","1.2,1.2");
  g.append("rect").attr("x",box[0]).attr("y",box[1]).attr("width",box[2]-box[0]).attr("height",box[3]-box[1]).attr("fill","none").attr("stroke","#9a9a9a").attr("stroke-width",1.2);
  const ax=g.append("g").attr("transform",`translate(0,${box[3]})`).call(d3.axisBottom(x).tickValues(o.xt).tickSize(3).tickSizeOuter(0).tickFormat(d=>d<0?"\u2212"+(-d):d));
  ax.select(".domain").remove();
  ax.selectAll("line").attr("stroke","#777").attr("stroke-width",.5);
  ax.selectAll("text").attr("font-family",SANS).attr("font-size",5.6).attr("fill","#555").attr("y",7);
  const ay=g.append("g").attr("transform",`translate(${box[0]},0)`).call(d3.axisLeft(y).tickValues(o.yt).tickSize(3).tickSizeOuter(0));
  ay.select(".domain").remove();
  ay.selectAll("line").attr("stroke","#777").attr("stroke-width",.5);
  ay.selectAll("text").attr("font-family",SANS).attr("font-size",5.6).attr("fill","#555").attr("x",0).attr("dy",0).attr("text-anchor","middle").attr("transform",`translate(${-7.5},0) rotate(-90)`);
  g.append("text").attr("x",(o.xl)).attr("y",238).attr("text-anchor","middle").attr("font-family",SANS).attr("font-size",6.9).attr("fill","#444").text("log2Fold Change(A/B)");
  g.append("text").attr("transform",`translate(${o.yl},${o.ylc}) rotate(-90)`).attr("text-anchor","middle").attr("font-family",SANS).attr("font-size",6.9).attr("fill","#444").text("\u2212log10(FDR)");
  o.legend.forEach((l,i)=>{
    g.append("circle").attr("cx",o.lx).attr("cy",o.ly[i]).attr("r",2.5).attr("fill",["#ff1a1a","#1a1aff","#b8b8b8"][i]);
    g.append("text").attr("x",o.lx+5).attr("y",o.ly[i]+1.9).attr("font-family",SANS).attr("font-size",5.3).attr("fill","#444").text(l);
  });
}
volcano({xv:[-10,10],xp:[88.3,204.7],yv:[0,12],yp:[205.3,38.3],box:[65,21,227,213],up:lncUp,down:lncDown,grey:lncGrey,cloud:lncCloud,band:[-9.5,10.5],xt:[-10,-5,0,5,10],yt:[0,2,4,6,8,10,12],xl:146,yl:44,ylc:116,lx:182,ly:[26,36.7,47],legend:["Up:211","Down:399","no\u2212DEGs:9465"],cloudOp:.65});
volcano({xv:[-5,10],xp:[322.3,448.3],yv:[0,10],yp:[206.3,41],box:[291.7,19,454.3,214],up:miUp,down:miDown,grey:miGrey,cloud:miCloud,band:[-5.6,10],xt:[-5,0,5,10],yt:[0,2,4,6,8,10],xl:373,yl:271,ylc:116,lx:410,ly:[23.7,32.7,42],legend:["Up:7","Down:19","no\u2212DEGs:1166"],cloudOp:.5});
volcano({xv:[-10,10],xp:[544.7,681.3],yv:[0,80],yp:[205.3,31.7],box:[530.3,20.7,690,212.3],up:mUp,down:mDown,grey:mGrey,cloud:mCloud,band:[-6,6],xt:[-10,-5,0,5,10],yt:[0,20,40,60,80],xl:610,yl:510,ylc:116,lx:644,ly:[28,37.7,47.3],legend:["Up:1189","Down:1404","no\u2212DEGs:12428"],r:.6,
 dense:[{pts:mDownDense,c:"#4a4af0",op:.5},{pts:mDownCore,c:"#1414e6",op:.95},{pts:mUpDense,c:"#f44a4a",op:.5},{pts:mUpCore,c:"#f01414",op:.95}]});

serif(145,17,"lncRNA",16.8);serif(372,16,"miRNA",16.8);serif(605,16,"mRNA",16.8);
serif(20,118,"A",18);
serif(9,367.7,"B",18);
serif(13.6,639,"C",18);
serif(143,261.7,"lncRNA",16.8);serif(417,267,"miRNA",16.8);serif(621,257.7,"mRNA",16.8);
serif(71.5,781.7,"lncRNA",16.8);serif(429.7,781.7,"mRNA",16.8);

function merges(list,catPos,depthPos,horizontalRoot,stroke,w){
  const g=svg.append("g").attr("fill","none").attr("stroke",stroke||"#9a9a9a").attr("stroke-width",w||.8);
  list.forEach(([a,b,da,db,t])=>{
    const A=catPos(a),B=catPos(b),Da=depthPos(da),Db=depthPos(db),T=depthPos(t);
    const p=d3.path();
    if(horizontalRoot){p.moveTo(A,Da);p.lineTo(A,T);p.lineTo(B,T);p.lineTo(B,Db);}
    else{p.moveTo(Da,A);p.lineTo(T,A);p.lineTo(T,B);p.lineTo(Db,B);}
    g.append("path").attr("d",p.toString());
  });
}

function heat(o){
  const x=d3.scaleBand().domain(o.cols.map((d,i)=>i)).range(o.xr);
  const y=d3.scaleBand().domain(o.rows.map((d,i)=>i)).range(o.yr);
  const c=d3.scaleLinear().domain(o.cd).range(o.cr);
  const g=svg.append("g");
  g.append("rect").attr("x",o.xr[0]).attr("y",o.yr[0]).attr("width",o.xr[1]-o.xr[0]).attr("height",o.yr[1]-o.yr[0]).attr("fill",o.bg||"#111");
  o.rows.forEach((r,i)=>{
    g.selectAll(null).data(r).join("rect").attr("x",(d,j)=>x(j)).attr("y",y(i)).attr("width",x.bandwidth()).attr("height",y.bandwidth()*(o.fill||1)).attr("fill",d=>c(d))
     .attr("stroke",o.cellStroke||"none").attr("stroke-width",o.cellStroke?.5:0);
  });
  const bar=d3.scaleLinear().domain([o.bd[0],o.bd[1]]).range([o.byr[1],o.byr[0]]);
  const id="grad"+Math.round(o.xr[0]);
  const grad=svg.append("defs").append("linearGradient").attr("id",id).attr("x1",0).attr("x2",0).attr("y1",1).attr("y2",0);
  const lo=o.bd[0],hi=o.bd[1];
  o.cd.forEach((v,i)=>grad.append("stop").attr("offset",(v-lo)/(hi-lo)).attr("stop-color",o.cr[i]));
  g.append("rect").attr("x",o.bx[0]).attr("y",o.byr[0]).attr("width",o.bx[1]-o.bx[0]).attr("height",o.byr[1]-o.byr[0]).attr("fill",`url(#${id})`);
  const ba=g.append("g").attr("transform",`translate(${o.bx[1]},0)`).call(d3.axisRight(bar).tickValues(o.bt).tickSize(0).tickPadding(o.bp||1).tickFormat(d=>d<0?"\u2212"+(-d):d));
  ba.select(".domain").remove();
  ba.selectAll("text").attr("font-family",SANS).attr("font-size",o.bf||4).attr("fill","#444");
  return {x,y};
}
function colLabels(x,cols,y){
  svg.append("g").selectAll("text").data(cols).join("text").attr("x",(d,i)=>x(i)+x.bandwidth()/2).attr("y",y).attr("text-anchor","middle").attr("font-family",SERIF).attr("font-weight","bold").attr("font-size",5.5).attr("fill","#222").text(d=>d);
}
function comb(h,leaf,x0,unit,stroke){
  const g=svg.append("g").attr("stroke",stroke).attr("stroke-width",.45);
  const rows=h.y;
  leaf.forEach((d,i)=>{
    const yy=rows(i)+rows.bandwidth()/2;
    g.append("line").attr("x1",x0).attr("x2",x0-d*unit).attr("y1",yy).attr("y2",yy);
  });
}

// lncRNA heatmap
const h1=heat({cols:lncCols,rows:lncRows,xr:[36.7,236],yr:[284,485.7],cd:[-6,-3,0,2,4.6],cr:["#00dcff","#07586a","#0a0a0a","#5f6900","#e4f500"],bx:[237.3,241],byr:[284,331],bd:[-6,4.6],bt:lncBar});
colLabels(h1.x,lncCols,491);
comb(h1,lncLeaf,36.7,.9,"#888");
const topC=(h,yTop,yRoot)=>[d=>h.x(0)+h.x.bandwidth()*(d+.5),d3.scaleLinear().domain([0,1]).range([yTop,yRoot])];
let [tc,td]=topC(h1,283,267);merges(lncTop,tc,td,true);
let ld=d3.scaleLinear().domain([0,1]).range([36,20]);
merges(lncLeft,i=>h1.y(0)+h1.y.step()*(i+.5),ld,false);

// miRNA heatmap
const miC={cd:[-3.2,-1,1,2.5,4.4],cr:["#00e5ff","#056070","#0a0a0a","#5a6400","#e5ff00"]};
const h2=heat({cols:miCols,rows:miRows,xr:[289.3,410.7],yr:[295.7,470.7],cd:miC.cd,cr:miC.cr,bx:[478,485],byr:[295.7,396.7],bd:[-3.2,4.4],bt:miBar,bf:6,bp:2,cellStroke:"#8a8a8a",bg:"#888"});
svg.append("g").selectAll("text").data(miRowNames).join("text").attr("x",412.7).attr("y",(d,i)=>h2.y(i)+h2.y.bandwidth()/2+2.3).attr("font-family",SANS).attr("font-size",7.1).attr("fill","#333").text(d=>d);
svg.append("g").selectAll("text").data(miCols).join("text").attr("transform",(d,i)=>`translate(${h2.x(i)+h2.x.bandwidth()/2-2},474) rotate(90)`).attr("font-family",SANS).attr("font-size",6.2).attr("fill","#333").text(d=>d);
[tc,td]=topC(h2,295,260.7);merges(miTop,tc,td,true,"#777",.8);
ld=d3.scaleLinear().domain([0,1]).range([288.5,254]);
merges(miLeft,i=>h2.y(0)+h2.y.step()*(i+.5),ld,false,"#777",.8);

// mRNA heatmap
const h3=heat({cols:mCols,rows:mRows,xr:[519.3,711.3],yr:[277,472.3],cd:[-6,-2.5,0,2.5,6],cr:["#14e0b0","#0f4a42","#191919","#5f4a1e","#ffb400"],bx:[713,715.7],byr:[277,322.7],bd:[-6,6],bt:mBar,fill:.72,bg:"#181818"});
colLabels(h3.x,mCols,478);
comb(h3,mLeaf,519.3,.8,"#999");
[tc,td]=topC(h3,276,260.7);merges(mTop,tc,td,true);
ld=d3.scaleLinear().domain([0,1]).range([519,503]);
merges(mLeft,i=>h3.y(0)+h3.y.step()*(i+.5),ld,false);

// circos
function circos(cx,cy,blue,green,opt){
  const g=svg.append("g").attr("transform",`translate(${cx},${cy})`);
  const gap=1.5*Math.PI/180;
  const total=d3.sum(chrSizes);
  const span=2*Math.PI-gap*chrSizes.length;
  let acc=opt.rot;
  const rad=[];
  chrSizes.forEach(s=>{const w=s/total*span;rad.push(d3.scaleLinear().domain([0,s]).range([acc,acc+w]));acc+=w+gap;});
  const arc=d3.arc();
  const pol=(a,r)=>[r*Math.sin(a),-r*Math.cos(a)];
  const blueH=d3.scaleLinear().domain([0,9]).range([65,opt.blueMax]);
  const greenH=d3.scaleLinear().domain([0,9]).range([opt.gBase,opt.gMax]);
  chrNames.forEach((name,i)=>{
    const sc=rad[i],[a0,a1]=sc.range(),size=chrSizes[i];
    g.append("path").attr("d",arc({innerRadius:107,outerRadius:117,startAngle:a0,endAngle:a1})).attr("fill",chrColors[i]).attr("stroke","#555").attr("stroke-width",.25);
    g.append("path").attr("d",arc({innerRadius:117.2,outerRadius:119,startAngle:a0,endAngle:a1})).attr("fill","#a8a8a8");
    d3.range(0,size,5).forEach(v=>{
      const a=sc(v),major=v%25===0,[x1,y1]=pol(a,119),[x2,y2]=pol(a,major?122.5:120.5);
      g.append("line").attr("x1",x1).attr("y1",y1).attr("x2",x2).attr("y2",y2).attr("stroke","#888").attr("stroke-width",.3);
      if(major){
        const deg=a*180/Math.PI, right=((deg%360)+360)%360<180;
        const [tx,ty]=pol(a,123.5);
        g.append("text").attr("transform",`translate(${tx},${ty}) rotate(${right?deg-90:deg+90})`).attr("text-anchor",right?"start":"end").attr("dy","0.35em").attr("font-family",SANS).attr("font-size",3.9).attr("fill","#555").text(v);
      }
    });
    const mid=(a0+a1)/2,deg=mid*180/Math.PI,right=deg%360<180,[nx,ny]=pol(mid,opt.labelR);
    g.append("text").attr("transform",`translate(${nx},${ny}) rotate(${right?deg-90:deg+90})`).attr("text-anchor","middle").attr("dy","0.35em").attr("font-family",SERIF).attr("font-size",7).attr("fill","#222").text(name);
    if(name==="chrY")return;
    g.append("path").attr("d",arc({innerRadius:65,outerRadius:97.5,startAngle:a0,endAngle:a1})).attr("fill","#c8c8c8");
    const gv=green[i],gs=d3.scaleLinear().domain([0,gv.length]).range([a0,a1]);
    gv.forEach((v,k)=>{
      if(!v)return;
      const a=gs(k+.5),[x1,y1]=pol(a,opt.tang?greenH(v)-1.6:opt.gBase),[x2,y2]=pol(a,greenH(v));
      g.append("line").attr("x1",x1).attr("y1",y1).attr("x2",x2).attr("y2",y2).attr("stroke","#84ee10").attr("stroke-width",.75);
      if(opt.tang){g.append("path").attr("d",arc({innerRadius:greenH(v)-.35,outerRadius:greenH(v)+.35,startAngle:gs(k),endAngle:gs(k+1)})).attr("fill","#84ee10");}
    });
    const bv=blue[i],bs=d3.scaleLinear().domain([0,bv.length]).range([a0,a1]);
    bv.forEach((v,k)=>{
      if(!v)return;
      const a=bs(k+.5),[x1,y1]=pol(a,65),[x2,y2]=pol(a,blueH(v));
      g.append("line").attr("x1",x1).attr("y1",y1).attr("x2",x2).attr("y2",y2).attr("stroke","#1e90ff").attr("stroke-width",.7);
    });
  });
}
circos(206,653.5,lncBlue,lncGreen,{rot:0,blueMax:90,gBase:72,gMax:92,tang:true,labelR:140});
circos(561.5,652.5,mBlue,mGreen,{rot:-.004,blueMax:85,gBase:79,gMax:96,tang:false,labelR:140});
</script></body></html>
